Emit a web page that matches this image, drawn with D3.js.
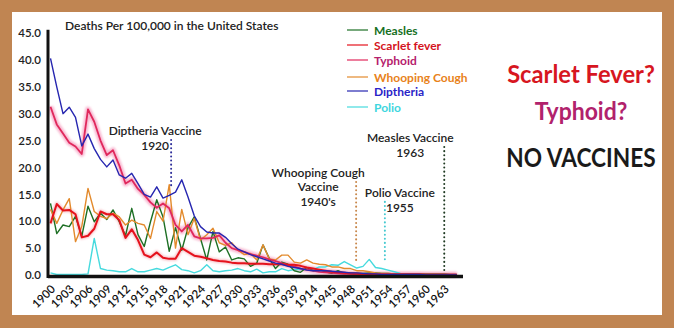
<!DOCTYPE html>
<html><head><meta charset="utf-8">
<script src="https://cdn.jsdelivr.net/npm/d3@7/dist/d3.min.js"></script>
<style>
html,body{margin:0;padding:0;background:#c08552;}
svg{display:block;}
text{font-family:Lato,"Open Sans",sans-serif;}
</style></head><body>
<svg id="c" width="674" height="328"></svg>
<script>
// ---------- DATA ----------
const years = d3.range(1900, 1966);
const measles = [13.3,7.7,9.3,9.0,10.9,7.2,12.8,9.9,11.5,10.3,12.1,9.9,7.3,12.4,7.5,5.3,9.9,14.0,10.8,4.4,
  8.8,4.6,8.8,10.8,6.8,2.8,8.1,4.3,5.2,2.8,3.2,3.0,1.6,2.2,5.6,3.1,1.2,2.4,2.0,0.8,
  0.5,1.4,0.8,1.0,0.6,0.3,0.8,0.3,0.4,0.3,0.3,0.4,0.4,0.3,0.3,0.2,0.2,0.2,0.2,0.2,
  0.2,0.2,0.2,0.2,0.1,0.1];
const scarletFever = [9.6,13.2,12.0,12.1,11.3,7.0,7.3,8.6,11.8,11.3,11.3,10.2,6.9,8.5,6.5,3.8,3.3,4.2,3.2,3.0,
  3.0,5.0,4.3,3.6,3.4,3.1,2.8,2.6,2.5,2.3,2.2,2.2,2.1,2.1,2.1,2.0,2.0,2.0,1.9,1.9,
  1.7,1.4,1.2,1.0,0.8,0.6,0.5,0.4,0.3,0.3,0.2,0.2,0.1,0.1,0.1,0.1,0.1,0.1,0.1,0.1,
  0.0,0.0,0.0,0.0,0.0,0.0];
const typhoid = [31.3,28.0,26.3,24.6,23.9,22.5,30.8,28.5,25.0,22.3,23.2,20.4,17.0,17.7,16.0,14.9,13.5,12.5,13.3,12.4,
  9.3,8.1,9.3,7.2,6.8,6.8,6.9,7.4,6.0,5.0,4.6,4.3,3.9,3.6,3.3,2.9,2.6,2.2,1.9,1.6,
  1.2,1.0,0.8,0.6,0.5,0.4,0.3,0.2,0.2,0.1,0.1,0.1,0.1,0.1,0.1,0.1,0.1,0.1,0.1,0.1,
  0.1,0.1,0.1,0.1,0.1,0.1];
const whoopingCough = [12.2,9.6,12.1,14.2,6.2,9.0,16.1,11.8,10.9,10.5,11.5,10.8,9.3,10.2,9.6,9.3,6.8,11.8,10.0,16.8,
  5.0,12.2,7.5,10.5,6.5,7.5,8.7,6.0,5.5,6.0,4.6,3.8,4.0,2.8,5.6,3.0,2.8,3.7,3.7,2.4,
  2.2,2.8,2.2,2.0,1.9,1.5,1.5,1.2,1.2,0.8,0.8,0.6,0.4,0.3,0.3,0.2,0.2,0.1,0.1,0.1,
  0.1,0.1,0.1,0.1,0.0,0.0];
const diphtheria = [40.3,35.0,30.0,31.2,29.3,24.0,26.2,23.5,21.5,20.1,21.4,18.6,18.0,18.9,17.0,15.0,14.5,16.4,14.3,14.8,
  15.4,17.7,14.5,11.0,9.0,8.0,7.8,7.8,7.0,5.8,4.8,4.3,3.8,3.4,3.0,2.6,2.2,2.0,1.6,1.4,
  1.2,0.9,0.8,0.8,0.8,0.7,0.6,0.5,0.4,0.4,0.3,0.2,0.2,0.1,0.1,0.1,0.1,0.1,0.1,0.1,
  0.0,0.0,0.0,0.0,0.0,0.0];
const polio = [0.4,0.1,0.1,0.1,0.1,0.1,0.2,6.8,1.2,0.9,0.8,0.6,0.6,1.2,0.6,0.6,0.9,1.2,0.9,1.4,
  1.9,1.0,0.8,0.4,0.8,1.9,0.8,0.6,0.8,0.9,1.2,0.8,0.6,1.1,0.4,0.6,0.6,1.2,0.8,1.0,
  1.0,1.3,1.0,1.5,1.5,1.9,1.8,2.5,1.9,1.3,1.6,2.9,1.4,1.2,0.9,0.6,0.3,0.1,0.1,0.1,
  0.1,0.0,0.0,0.0,0.0,0.0];

const seriesNames = ["Measles","Scarlet fever","Typhoid","Whooping Cough","Diptheria","Polio"];
const tickYears = d3.range(1900, 1964, 3);
const tickLabels = ["1900","1903","1906","1909","1912","1915","1918","1921","1924","1927","1930",
  "1933","1936","1939","1914","1945","1948","1951","1954","1957","1960","1963"];
const yTicks = d3.range(0, 46, 5);

const vaccineLines1 = ["Diptheria Vaccine","Whooping Cough","Polio Vaccine","Measles Vaccine"];
const vaccineLines2 = ["1920","Vaccine","1955","1963"];
const vaccineLines3 = ["","1940's","",""];
const vaccineYear = [1919.3, 1948.9, 1953.5, 1963.0];
const vaccineTop = [25.1, 17.3, 13.6, 23.8];
const vaccineBottom = [16.4, 2.2, 2.8, 0.6];

const title = "Deaths Per 100,000 in the United States";
const sideTexts = ["Scarlet Fever?","Typhoid?","NO VACCINES"];

// ---------- STYLE / LAYOUT ----------
const colors = {"Measles":"#1d6f24","Scarlet fever":"#e5121c","Typhoid":"#e0285c","Whooping Cough":"#e38a2c","Diptheria":"#2626b0","Polio":"#46dade"};
const legendText = {"Measles":"#17701f","Scarlet fever":"#d41321","Typhoid":"#b5206c","Whooping Cough":"#e8821a","Diptheria":"#2a24c8","Polio":"#3fd6de"};
const glow = {"Typhoid":"#f7aac8","Scarlet fever":"#f6b4bc"};
const vColors = ["#2e2e9a","#c8874a","#45c9d0","#1f3a22"];

const svg = d3.select("#c");
svg.append("rect").attr("x",12).attr("y",12).attr("width",650).attr("height",303).attr("fill","#fff");

const x = d3.scaleLinear().domain([1900, 1965]).range([50.5, 456.75]);
const y = d3.scaleLinear().domain([0, 45]).range([275, 33]);

const dataBy = {"Measles":measles,"Scarlet fever":scarletFever,"Typhoid":typhoid,"Whooping Cough":whoopingCough,"Diptheria":diphtheria,"Polio":polio};
const line = d3.line().x((d,i)=>x(years[i])).y(d=>y(d)).curve(d3.curveLinear);

// glows
const defs = svg.append("defs");
defs.append("filter").attr("id","blur").append("feGaussianBlur").attr("stdDeviation",1.0);
const g = svg.append("g");
["Scarlet fever","Typhoid"].forEach(n=>{
  g.append("path").attr("d",line(dataBy[n])).attr("fill","none").attr("stroke",glow[n])
   .attr("stroke-width", n==="Typhoid"?5.5:4).attr("stroke-linejoin","round").attr("opacity",0.85).attr("filter","url(#blur)");
});
const order = ["Polio","Measles","Whooping Cough","Typhoid","Scarlet fever","Diptheria"];
order.forEach(n=>{
  g.append("path").attr("d",line(dataBy[n])).attr("fill","none").attr("stroke",colors[n])
   .attr("stroke-width", (n==="Scarlet fever")?2:(n==="Typhoid"?1.8:1.4)).attr("stroke-linejoin","round");
});

// axes
const ax = svg.append("g").attr("transform","translate(0,276)")
  .call(d3.axisBottom(x).tickValues(tickYears).tickSize(0).tickFormat((d,i)=>tickLabels[i]));
ax.select(".domain").remove();
ax.selectAll("text").attr("font-size",11.5).attr("fill","#111").attr("font-weight",600)
  .attr("text-anchor","end").attr("dy","0.35em").attr("y",0).attr("x",0)
  .attr("transform","translate(2,11) rotate(-45)");
svg.append("line").attr("x1",x(1899.6)).attr("x2",x(1966.0)).attr("y1",y(0)+1.5).attr("y2",y(0)+1.5)
  .attr("stroke","#111").attr("stroke-width",3.5);

const ay = svg.append("g").attr("transform","translate(41,0)")
  .call(d3.axisLeft(y).tickValues(yTicks).tickSize(0).tickFormat(d3.format(".1f")));
ay.select(".domain").remove();
ay.selectAll("text").attr("font-size",11.5).attr("fill","#222").attr("font-weight",600).attr("x",0);
svg.append("line").attr("x1",48).attr("x2",48).attr("y1",y(45.6)).attr("y2",y(0)+3)
  .attr("stroke","#111").attr("stroke-width",3);

// title
svg.append("text").attr("x",65).attr("y",30).attr("font-size",12).attr("fill","#222").attr("font-weight",600).text(title);

// vaccine markers
const ann = [
  {dx:-16, ys:[135,150]},
  {dx:-38, ys:[177,191,206]},
  {dx:15, ys:[197,212]},
  {dx:-34, ys:[142,157]}
];
vaccineYear.forEach((vy,i)=>{
  svg.append("line").attr("x1",x(vy)).attr("x2",x(vy)).attr("y1",y(vaccineTop[i])).attr("y2",y(vaccineBottom[i]))
    .attr("stroke",vColors[i]).attr("stroke-width",2).attr("stroke-dasharray","0.1 4").attr("stroke-linecap","round");
  [vaccineLines1[i],vaccineLines2[i],vaccineLines3[i]].forEach((t,j)=>{
    if(!t) return;
    svg.append("text").attr("x",x(vy)+ann[i].dx).attr("y",ann[i].ys[j]).attr("text-anchor","middle")
      .attr("font-size",12).attr("font-weight",600).attr("fill","#222").text(t);
  });
});

// legend
const legY = [30,45,60,77,91,107];
seriesNames.forEach((n,i)=>{
  svg.append("line").attr("x1",347).attr("x2",368).attr("y1",legY[i]).attr("y2",legY[i])
    .attr("stroke",colors[n]).attr("stroke-width",1.5).attr("opacity",0.8);
  svg.append("text").attr("x",374).attr("y",legY[i]+4.5).attr("font-size",12).attr("font-weight",700)
    .attr("fill",legendText[n]).text(n);
});

// side texts (horizontally condensed to match the hand-lettered width)
const sideCol = ["#d7161f","#b1226c","#1a1a1a"];
const sideY = [83,120,167];
const sideSize = [25,25,27];
const sideScale = [0.95,0.92,0.84];
sideTexts.forEach((t,i)=>{
  svg.append("g").attr("transform",`translate(581,${sideY[i]}) scale(${sideScale[i]},1)`)
    .append("text").attr("x",0).attr("y",0).attr("text-anchor","middle")
    .attr("font-size",sideSize[i]).attr("font-weight",700).attr("fill",sideCol[i]).text(t);
});
</script>
</body></html>
